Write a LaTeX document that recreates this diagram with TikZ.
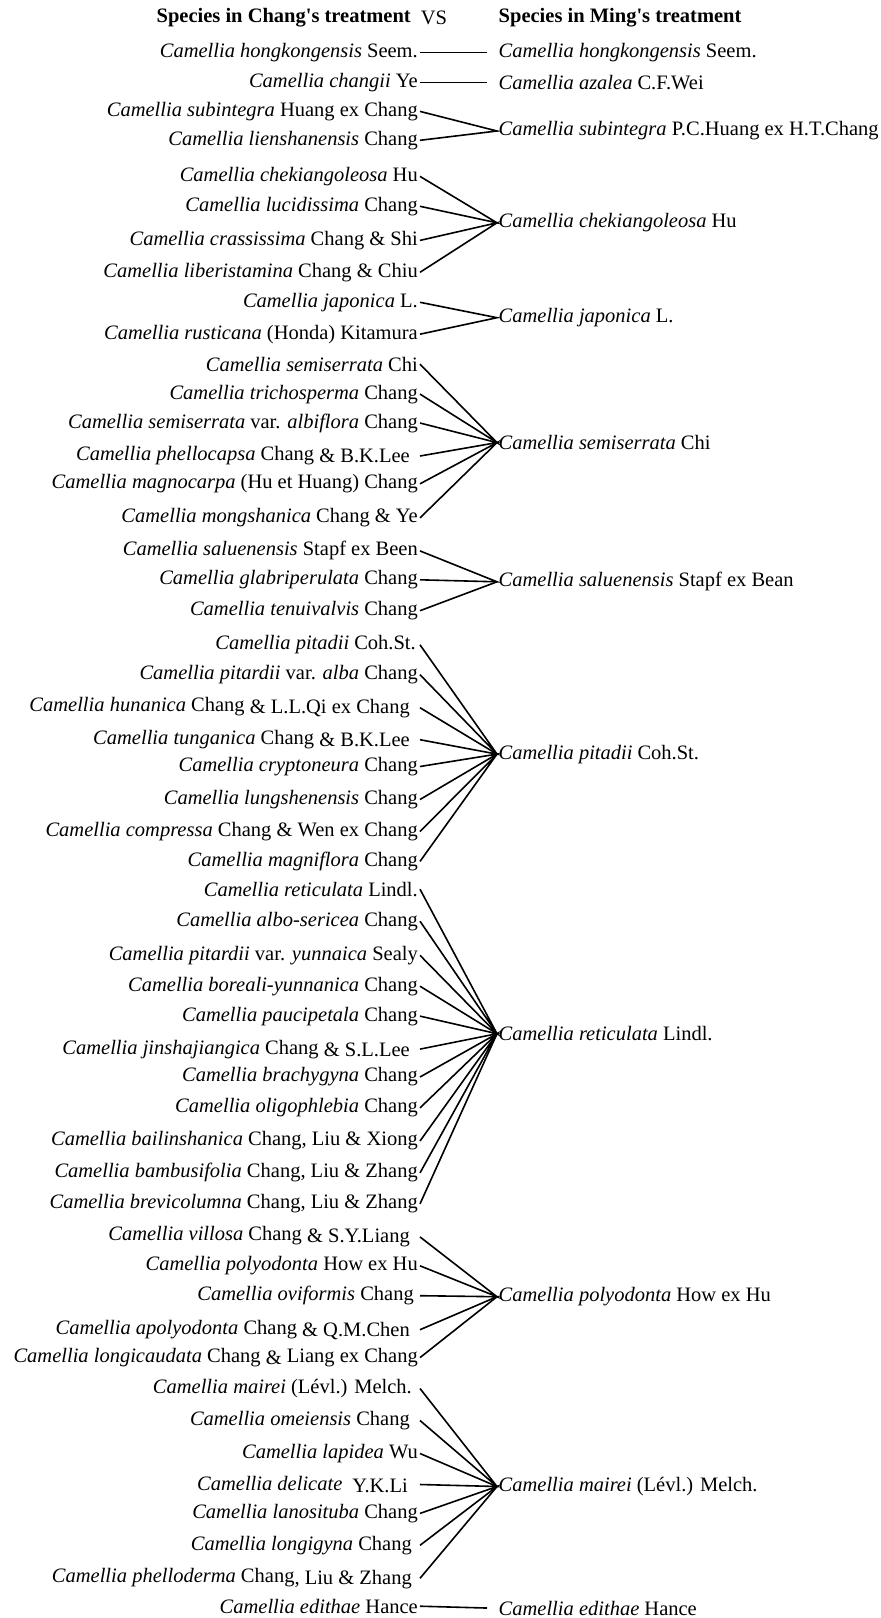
\documentclass[tikz,border=0pt]{standalone}
\usepackage{fontspec}
\setmainfont{Liberation Serif}[Ligatures=TeXOff]
\usepackage{tikz}
\newcommand{\aut}[1]{\raisebox{-2pt}{#1}}

\begin{document}
\begin{tikzpicture}[x=1pt,y=-1pt]
            \tikzset{Chang/.style={anchor=east,inner sep=2pt,font=\fontsize{20.5}{24}\selectfont},
                     Ming/.style={anchor=west,inner sep=1.5pt,font=\fontsize{20.5}{24}\selectfont},
                     EdgeStyle/.style={line width=1.6pt},
                     Same/.style={EdgeStyle,shorten >=10pt}};
            \useasboundingbox (0,0) rectangle (881,1618);

            \node[Chang,font=\fontsize{20.5}{24}\selectfont\bfseries] (h_v) at (413,17.5){Species in Chang's treatment};
            \node[font=\fontsize{20.5}{24}\selectfont] (h_vs) at (434,17.5){VS};
            \node[Ming,font=\fontsize{20.5}{24}\selectfont\bfseries] (h_u) at (497,17.5){Species in Ming's treatment};

            \node[Chang] (v_1) at (420,52.6){\textit{Camellia hongkongensis} Seem.};
            \node[Chang] (v_2) at (420,82.5){\textit{Camellia changii} Ye};
            \node[Chang] (v_3) at (420,111.4){\textit{Camellia subintegra} Huang ex Chang};
            \node[Chang] (v_4) at (420,140.3){\textit{Camellia lienshanensis} Chang};
            \node[Chang] (v_5) at (420,176.4){\textit{Camellia chekiangoleosa} Hu};
            \node[Chang] (v_6) at (420,206.3){\textit{Camellia lucidissima} Chang};
            \node[Chang] (v_7) at (420,240.4){\textit{Camellia crassissima} Chang \& Shi};
            \node[Chang] (v_8) at (420,272.3){\textit{Camellia liberistamina} Chang \& Chiu};
            \node[Chang] (v_9) at (420,302.3){\textit{Camellia japonica} L.};
            \node[Chang] (v_10) at (420,334.2){\textit{Camellia rusticana} (Honda) Kitamura};
            \node[Chang] (v_11) at (420,364.2){\textit{Camellia semiserrata} Chi};
            \node[Chang] (v_12) at (420,394.1){\textit{Camellia trichosperma} Chang};
            \node[Chang] (v_13) at (420,423.0){\textit{Camellia semiserrata} var. \textit{albiflora} Chang};
            \node[Chang] (v_14) at (420,456.0){\textit{Camellia phellocapsa} Chang \aut{\& B.K.Lee}\kern8pt};
            \node[Chang] (v_15) at (420,483.8){\textit{Camellia magnocarpa} (Hu et Huang) Chang};
            \node[Chang] (v_16) at (420,517.9){\textit{Camellia mongshanica} Chang \& Ye};
            \node[Chang] (v_17) at (420,550.9){\textit{Camellia saluenensis} Stapf ex Been};
            \node[Chang] (v_18) at (420,579.8){\textit{Camellia glabriperulata} Chang};
            \node[Chang] (v_19) at (420,610.7){\textit{Camellia tenuivalvis} Chang};
            \node[Chang] (v_20) at (420,644.8){\textit{Camellia pitadii}\kern5pt Coh.St.\kern2pt};
            \node[Chang] (v_21) at (420,674.7){\textit{Camellia pitardii} var. \textit{alba} Chang};
            \node[Chang] (v_22) at (420,707.7){\textit{Camellia hunanica} Chang \aut{\& L.L.Qi ex Chang}\kern8pt};
            \node[Chang] (v_23) at (420,739.7){\textit{Camellia tunganica} Chang \aut{\& B.K.Lee}\kern8pt};
            \node[Chang] (v_24) at (420,766.5){\textit{Camellia cryptoneura} Chang};
            \node[Chang] (v_25) at (420,799.5){\textit{Camellia lungshenensis} Chang};
            \node[Chang] (v_26) at (420,831.5){\textit{Camellia compressa} Chang \& Wen ex Chang};
            \node[Chang] (v_27) at (420,861.4){\textit{Camellia magniflora} Chang};
            \node[Chang] (v_28) at (420,889.2){\textit{Camellia reticulata} Lindl.};
            \node[Chang] (v_29) at (420,921.2){\textit{Camellia albo-sericea} Chang};
            \node[Chang] (v_30) at (420,955.3){\textit{Camellia pitardii} var. \textit{yunnaica} Sealy};
            \node[Chang] (v_31) at (420,986.2){\textit{Camellia boreali-yunnanica} Chang};
            \node[Chang] (v_32) at (420,1016.1){\textit{Camellia paucipetala} Chang};
            \node[Chang] (v_33) at (420,1049.1){\textit{Camellia jinshajiangica} Chang \aut{\& S.L.Lee}\kern8pt};
            \node[Chang] (v_34) at (420,1077.0){\textit{Camellia brachygyna} Chang};
            \node[Chang] (v_35) at (420,1107.9){\textit{Camellia oligophlebia} Chang};
            \node[Chang] (v_36) at (420,1141.0){\textit{Camellia bailinshanica} Chang, Liu \& Xiong};
            \node[Chang] (v_37) at (420,1172.9){\textit{Camellia bambusifolia} Chang, Liu \& Zhang};
            \node[Chang] (v_38) at (420,1203.9){\textit{Camellia brevicolumna} Chang, Liu \& Zhang};
            \node[Chang] (v_39) at (420,1236.9){\textit{Camellia villosa} Chang \aut{\& S.Y.Liang}\kern8pt};
            \node[Chang] (v_40) at (420,1265.8){\textit{Camellia polyodonta} How ex Hu};
            \node[Chang] (v_41) at (420,1295.7){\textit{Camellia oviformis} Chang\kern4pt};
            \node[Chang] (v_42) at (420,1329.7){\textit{Camellia apolyodonta} Chang \aut{\& Q.M.Chen}\kern8pt};
            \node[Chang] (v_43) at (420,1357.6){\textit{Camellia longicaudata} Chang \aut{\&} Liang ex Chang};
            \node[Chang] (v_44) at (420,1388.5){\textit{Camellia mairei} (Lévl.) Melch.\kern6pt};
            \node[Chang] (v_45) at (420,1420.5){\textit{Camellia omeiensis} Chang\kern8pt};
            \node[Chang] (v_46) at (420,1453.5){\textit{Camellia lapidea} Wu};
            \node[Chang] (v_47) at (420,1484.5){\textit{Camellia delicate}\kern10pt\aut{Y.K.Li}\kern10pt};
            \node[Chang] (v_48) at (420,1513.4){\textit{Camellia lanosituba} Chang};
            \node[Chang] (v_49) at (420,1545.3){\textit{Camellia longigyna} Chang\kern6pt};
            \node[Chang] (v_50) at (420,1578.3){\textit{Camellia phelloderma} Chang\aut{, Liu \& Zhang}\kern6pt};
            \node[Chang] (v_51) at (420,1606.2){\textit{Camellia edithae} Hance};

            \node[Ming] (u_1) at (497,52.6){\textit{Camellia hongkongensis} Seem.};
            \node[Ming] (u_2) at (497,82.5){\textit{Camellia azalea}\kern5pt C.F.Wei};
            \node[Ming] (u_3) at (497,131.0){\textit{Camellia subintegra} P.C.Huang ex H.T.Chang};
            \node[Ming] (u_4) at (497,222.8){\textit{Camellia chekiangoleosa} Hu};
            \node[Ming] (u_5) at (497,317.7){\textit{Camellia japonica} L.};
            \node[Ming] (u_6) at (497,442.6){\textit{Camellia semiserrata} Chi};
            \node[Ming] (u_7) at (497,581.8){\textit{Camellia saluenensis} Stapf ex Bean};
            \node[Ming] (u_8) at (497,754.1){\textit{Camellia pitadii}\kern5pt Coh.St.};
            \node[Ming] (u_9) at (497,1033.7){\textit{Camellia reticulata} Lindl.};
            \node[Ming] (u_10) at (497,1296.7){\textit{Camellia polyodonta} How ex Hu};
            \node[Ming] (u_11) at (497,1486.5){\textit{Camellia mairei} (Lévl.) Melch.};
            \node[Ming] (u_12) at (497,1608.3){\textit{Camellia edithae} Hance};

            \draw[Same] (v_1.east) -- (u_1.west);
            \draw[Same] (v_2.east) -- (u_2.west);
            \draw[EdgeStyle] (v_3.east) -- (u_3.west) -- (v_4.east);
            \draw[EdgeStyle] (v_5.east) -- (u_4.west) -- (v_6.east);
            \draw[EdgeStyle] (v_7.east) -- (u_4.west) -- (v_8.east);
            \draw[EdgeStyle] (v_9.east) -- (u_5.west) -- (v_10.east);
            \draw[EdgeStyle] (v_11.east) -- (u_6.west) -- (v_12.east);
            \draw[EdgeStyle] (v_13.east) -- (u_6.west) -- (v_14.east);
            \draw[EdgeStyle] (v_15.east) -- (u_6.west) -- (v_16.east);
            \draw[EdgeStyle] (v_17.east) -- (u_7.west) -- (v_18.east);
            \draw[EdgeStyle] (v_19.east) -- (u_7.west);
            \draw[EdgeStyle] (v_20.east) -- (u_8.west) -- (v_21.east);
            \draw[EdgeStyle] (v_22.east) -- (u_8.west) -- (v_23.east);
            \draw[EdgeStyle] (v_24.east) -- (u_8.west) -- (v_25.east);
            \draw[EdgeStyle] (v_26.east) -- (u_8.west) -- (v_27.east);
            \draw[EdgeStyle] (v_28.east) -- (u_9.west) -- (v_29.east);
            \draw[EdgeStyle] (v_30.east) -- (u_9.west) -- (v_31.east);
            \draw[EdgeStyle] (v_32.east) -- (u_9.west) -- (v_33.east);
            \draw[EdgeStyle] (v_34.east) -- (u_9.west) -- (v_35.east);
            \draw[EdgeStyle] (v_36.east) -- (u_9.west) -- (v_37.east);
            \draw[EdgeStyle] (v_38.east) -- (u_9.west);
            \draw[EdgeStyle] (v_39.east) -- (u_10.west) -- (v_40.east);
            \draw[EdgeStyle] (v_41.east) -- (u_10.west) -- (v_42.east);
            \draw[EdgeStyle] (v_43.east) -- (u_10.west);
            \draw[EdgeStyle] (v_44.east) -- (u_11.west) -- (v_45.east);
            \draw[EdgeStyle] (v_46.east) -- (u_11.west) -- (v_47.east);
            \draw[EdgeStyle] (v_48.east) -- (u_11.west) -- (v_49.east);
            \draw[EdgeStyle] (v_50.east) -- (u_11.west);
            \draw[Same] (v_51.east) -- (u_12.west);
          \end{tikzpicture}
\end{document}
